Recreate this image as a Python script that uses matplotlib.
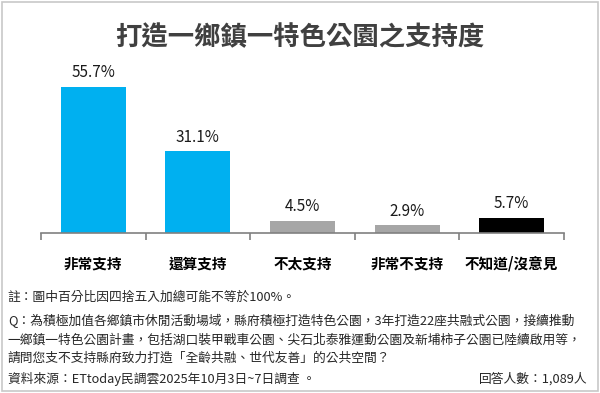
import matplotlib.pyplot as plt
from matplotlib.patches import Rectangle

plt.rcParams['font.family'] = ['Noto Sans CJK TC', 'DejaVu Sans']

# 數據
categories = ['非常支持', '還算支持', '不太支持', '非常不支持', '不知道/沒意見']
values = [55.7, 31.1, 4.5, 2.9, 5.7]
labels = ['55.7%', '31.1%', '4.5%', '2.9%', '5.7%']
colors = ['#00B0F0', '#00B0F0', '#A6A6A6', '#A6A6A6', '#000000']

fig = plt.figure(figsize=(6, 3.93), dpi=100)
# 外框
fig.patches.append(Rectangle((0.004, 0.004), 0.992, 0.992, transform=fig.transFigure,
                             fill=False, edgecolor='#C8C8C8', linewidth=1.2))

fig.text(0.5, 0.905, '打造一鄉鎮一特色公園之支持度', ha='center', va='center',
         fontsize=19, fontweight='bold', color='#404040')

ax = fig.add_axes([0.0683, 0.4071, 0.8717, 0.4402])
x = list(range(len(categories)))
ax.bar(x, values, width=0.62, color=colors)
for i in x:
    ax.text(i, values[i] + 2.2, labels[i], ha='center', va='bottom', fontsize=11, color='#1a1a1a')

ax.set_xlim(-0.5, 4.5)
ax.set_ylim(0, 66)
for s in ['top', 'right', 'left']:
    ax.spines[s].set_visible(False)
ax.spines['bottom'].set_color('#808080')
ax.spines['bottom'].set_linewidth(1.2)
ax.set_yticks([])
ax.set_xticks(x)
ax.set_xticklabels(categories, fontsize=10.5, fontweight='bold')
ax.tick_params(axis='x', which='major', length=0, pad=16)
ax.set_xticks([i - 0.5 for i in range(len(categories) + 1)], minor=True)
ax.tick_params(axis='x', which='minor', length=5, width=1.2, color='#808080', direction='out')

# 註解
note_color = '#262626'
fs = 9.2
fig.text(0.013, 1 - 297 / 393, '註：圖中百分比因四捨五入加總可能不等於100%。', ha='left', va='center',
         fontsize=fs, color=note_color)
fig.text(0.013, 1 - 321 / 393, 'Q：為積極加值各鄉鎮市休閒活動場域，縣府積極打造特色公園，3年打造22座共融式公園，接續推動',
         ha='left', va='center', fontsize=fs, color=note_color)
fig.text(0.013, 1 - 340 / 393, '一鄉鎮一特色公園計畫，包括湖口裝甲戰車公園、尖石北泰雅運動公園及新埔柿子公園已陸續啟用等，',
         ha='left', va='center', fontsize=fs, color=note_color)
fig.text(0.013, 1 - 358 / 393, '請問您支不支持縣府致力打造「全齡共融、世代友善」的公共空間？',
         ha='left', va='center', fontsize=fs, color=note_color)
fig.text(0.013, 1 - 379 / 393, '資料來源：ETtoday民調雲2025年10月3日~7日調查 。', ha='left', va='center',
         fontsize=fs, color=note_color)
fig.text(0.98, 1 - 379 / 393, '回答人數：1,089人', ha='right', va='center',
         fontsize=fs, color=note_color)

fig.savefig('out.png', dpi=100)
